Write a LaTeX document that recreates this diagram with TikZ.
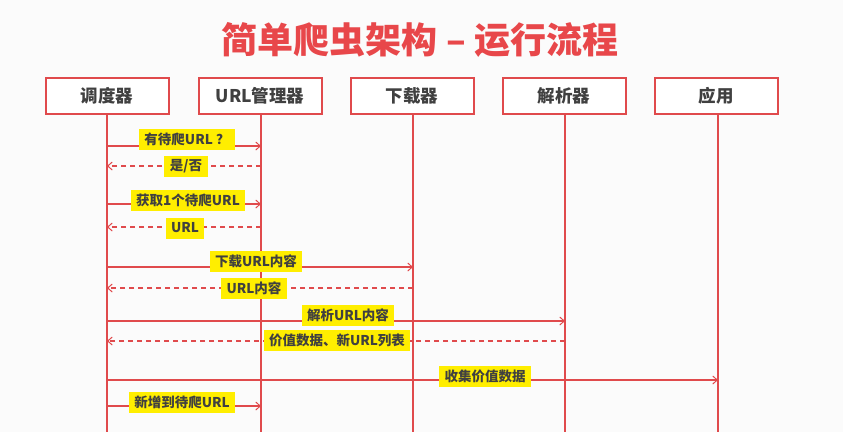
\documentclass[tikz,border=0pt]{standalone}
\usepackage{fontspec}
\setmainfont{Noto Sans CJK SC}
\usetikzlibrary{arrows.meta,shadows}
\definecolor{bg}{HTML}{FBFBFB}
\definecolor{rd}{HTML}{E04A4C}
\definecolor{ttl}{HTML}{E8474A}
\definecolor{txt}{HTML}{404040}
\definecolor{yl}{HTML}{FFEE00}
\tikzset{
  actor/.style={draw=rd, line width=2pt, fill=white, minimum width=123pt, minimum height=36pt,
    inner sep=0pt, font=\fontsize{17.5}{19}\selectfont\bfseries, text=txt,
    drop shadow={shadow xshift=0.6pt, shadow yshift=-0.6pt, opacity=0.25, fill=gray}},
  life/.style={draw=rd, line width=1.3pt},
  msg/.style={draw=rd, line width=1.1pt, -{Straight Barb[length=4.5pt,width=8pt,line width=1pt]}},
  ret/.style={msg, dash pattern=on 5pt off 4pt},
  lbl/.style={fill=yl, text=txt, font=\fontsize{13.5}{15}\selectfont\bfseries, inner xsep=5.5pt,
    inner ysep=0pt, minimum height=21pt}
}
\begin{document}
\begin{tikzpicture}[x=1pt,y=-1pt]
\useasboundingbox[fill=bg] (0,0) rectangle (843,432);
\node[text=ttl, font=\fontsize{36}{40}\selectfont\bfseries] (title) at (420,40) {简单爬虫架构 – 运行流程};
% actors
\node[actor] (a1) at (107,96) {调度器};
\node[actor] (a2) at (260,96) {URL管理器};
\node[actor] (a3) at (412,96) {下载器};
\node[actor] (a4) at (564,96) {解析器};
\node[actor] (a5) at (716,96) {应用};
% lifeline ends
\coordinate (e1) at (107,432);
\coordinate (e2) at (261,432);
\coordinate (e3) at (413,432);
\coordinate (e4) at (565,432);
\coordinate (e5) at (718,432);
\draw[life] (a1.south -| e1) -- (e1);
\draw[life] (a2.south -| e2) -- (e2);
\draw[life] (a3.south -| e3) -- (e3);
\draw[life] (a4.south -| e4) -- (e4);
\draw[life] (a5.south -| e5) -- (e5);
% message points
\coordinate (m1s) at (107,146); \coordinate (m1e) at (261,146);
\coordinate (m2s) at (261,166); \coordinate (m2e) at (107,166);
\coordinate (m3s) at (107,204); \coordinate (m3e) at (261,204);
\coordinate (m4s) at (261,227); \coordinate (m4e) at (107,227);
\coordinate (m5s) at (107,267); \coordinate (m5e) at (413,267);
\coordinate (m6s) at (413,288); \coordinate (m6e) at (107,288);
\coordinate (m7s) at (107,321); \coordinate (m7e) at (565,321);
\coordinate (m8s) at (565,341); \coordinate (m8e) at (107,341);
\coordinate (m9s) at (107,380); \coordinate (m9e) at (718,380);
\coordinate (m10s) at (107,406); \coordinate (m10e) at (261,406);
\draw[msg] (m1s) -- (m1e);
\draw[ret] (m2s) -- (m2e);
\draw[msg] (m3s) -- (m3e);
\draw[ret] (m4s) -- (m4e);
\draw[msg] (m5s) -- (m5e);
\draw[ret] (m6s) -- (m6e);
\draw[msg] (m7s) -- (m7e);
\draw[ret] (m8s) -- (m8e);
\draw[msg] (m9s) -- (m9e);
\draw[msg] (m10s) -- (m10e);
% labels
\node[lbl] (l1) at (187,139) {有待爬URL ？};
\node[lbl] (l2) at (186,166) {是/否};
\node[lbl] (l3) at (188,200) {获取1个待爬URL};
\node[lbl] (l4) at (185,228) {URL};
\node[lbl] (l5) at (256,261) {下载URL内容};
\node[lbl] (l6) at (254,288) {URL内容};
\node[lbl] (l7) at (348,315) {解析URL内容};
\node[lbl] (l8) at (337,340) {价值数据、新URL列表};
\node[lbl] (l9) at (485,376) {收集价值数据};
\node[lbl] (l10) at (182,402) {新增到待爬URL};
\end{tikzpicture}
\end{document}
